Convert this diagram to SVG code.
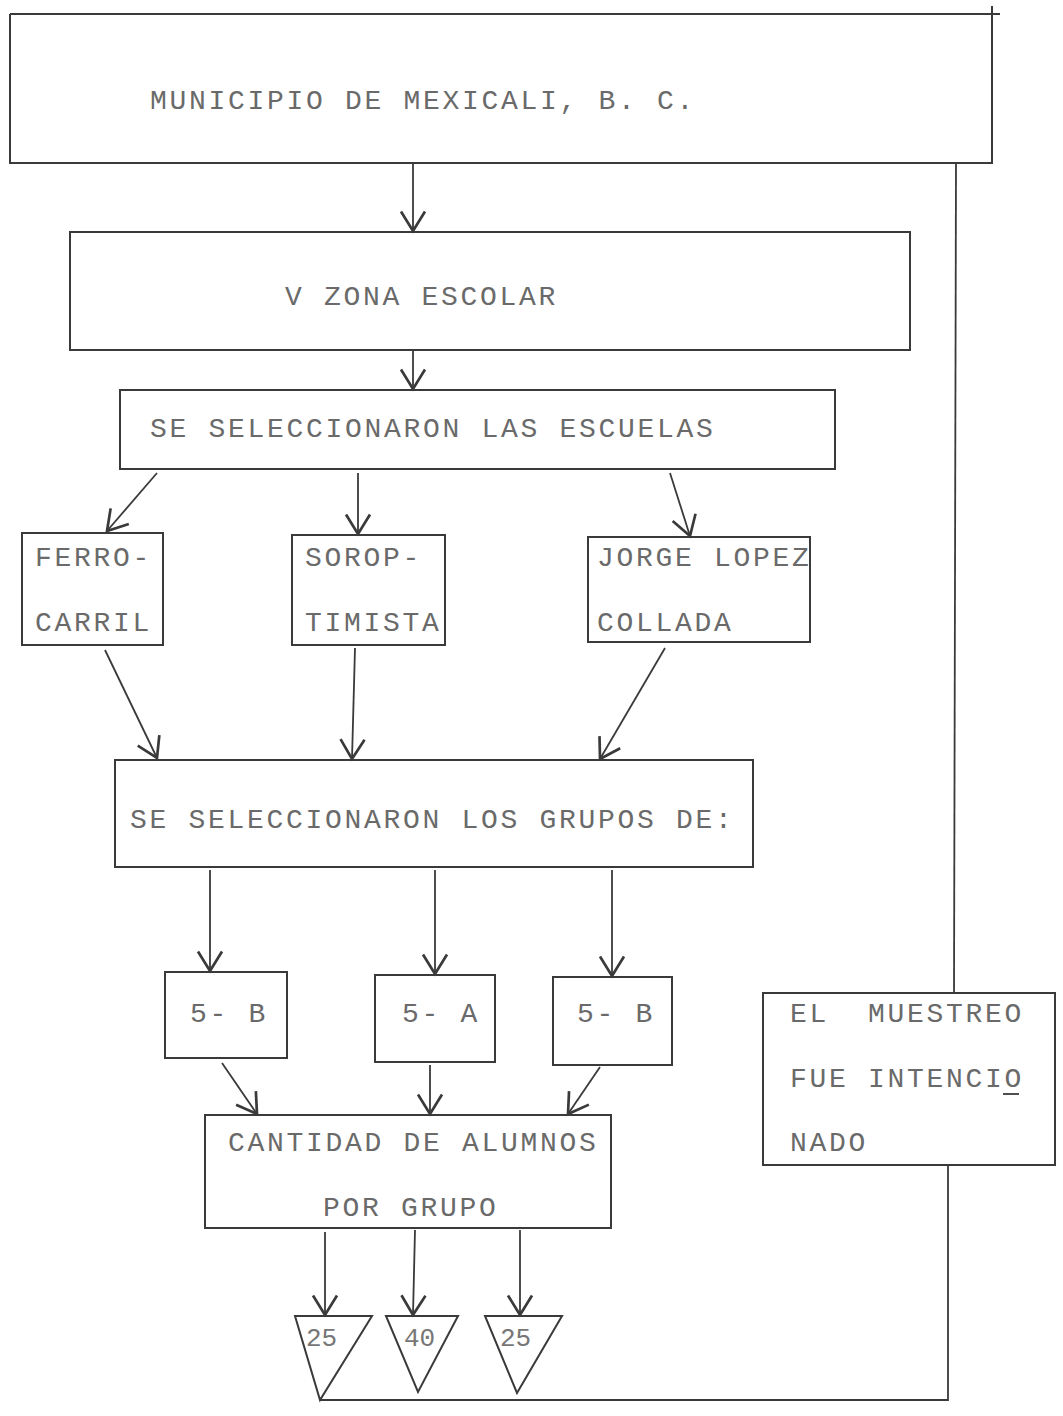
<svg xmlns="http://www.w3.org/2000/svg" width="1063" height="1416" viewBox="0 0 1063 1416">
<style>
.box{fill:none;stroke:#3a3a3a;stroke-width:2}
.ln{fill:none;stroke:#3a3a3a;stroke-width:1.8}
.arr{fill:none;stroke:#3a3a3a;stroke-width:1.8;marker-end:url(#ah)}
.t{font-family:"Liberation Mono","DejaVu Sans Mono",monospace;font-size:28px;letter-spacing:2.7px;fill:#6a6a6a}
.n{font-family:"Liberation Mono","DejaVu Sans Mono",monospace;font-size:26px;fill:#777777}
</style>
<defs>
<marker id="ah" markerUnits="userSpaceOnUse" markerWidth="30" markerHeight="30" viewBox="-15 -10 17 20" refX="0" refY="0" orient="auto">
<path d="M-13,-8 L0,0 L-13,8" fill="none" stroke="#3a3a3a" stroke-width="1.8"/>
</marker>
</defs>
<rect width="1063" height="1416" fill="#ffffff"/>

<g id="connectors">
<line class="arr" x1="413" y1="164" x2="413" y2="231"/>
<line class="arr" x1="413" y1="351" x2="413" y2="389"/>
<line class="arr" x1="157" y1="473" x2="107" y2="531"/>
<line class="arr" x1="358" y1="473" x2="358" y2="534"/>
<line class="arr" x1="670" y1="473" x2="690" y2="536"/>
<line class="arr" x1="105" y1="650" x2="157" y2="758"/>
<line class="arr" x1="355" y1="648" x2="352" y2="759"/>
<line class="arr" x1="665" y1="648" x2="600" y2="759"/>
<line class="arr" x1="210" y1="870" x2="210" y2="971"/>
<line class="arr" x1="435" y1="870" x2="435" y2="974"/>
<line class="arr" x1="612" y1="870" x2="612" y2="976"/>
<line class="arr" x1="222" y1="1063" x2="257" y2="1114"/>
<line class="arr" x1="430" y1="1065" x2="430" y2="1114"/>
<line class="arr" x1="600" y1="1067" x2="568" y2="1114"/>
<line class="arr" x1="325" y1="1232" x2="325" y2="1315"/>
<line class="arr" x1="415" y1="1230" x2="413" y2="1315"/>
<line class="arr" x1="520" y1="1230" x2="520" y2="1315"/>
<polyline class="ln" points="956,164 954,993"/>
<polyline class="ln" points="320,1400 948,1400 948,1165"/>
</g>

<g id="municipio">
<polyline class="box" points="10,14 1000,14"/>
<polyline class="box" points="992,6 992,163 10,163 10,14"/>
<text class="t" x="150" y="109">MUNICIPIO DE MEXICALI, B. C.</text>
</g>

<g id="zona">
<rect class="box" x="70" y="232" width="840" height="118"/>
<text class="t" x="285" y="305">V ZONA ESCOLAR</text>
</g>

<g id="escuelas">
<rect class="box" x="120" y="390" width="715" height="79"/>
<text class="t" x="150" y="437">SE SELECCIONARON LAS ESCUELAS</text>
</g>

<g id="ferrocarril">
<rect class="box" x="22" y="533" width="141" height="112"/>
<text class="t" x="35" y="566">FERRO-</text>
<text class="t" x="35" y="631">CARRIL</text>
</g>

<g id="soroptimista">
<rect class="box" x="292" y="535" width="153" height="110"/>
<text class="t" x="305" y="566">SOROP-</text>
<text class="t" x="305" y="631">TIMISTA</text>
</g>

<g id="jorgelopez">
<rect class="box" x="588" y="537" width="222" height="105"/>
<text class="t" x="597" y="566">JORGE LOPEZ</text>
<text class="t" x="597" y="631">COLLADA</text>
</g>

<g id="grupos">
<rect class="box" x="115" y="760" width="638" height="107"/>
<text class="t" x="130" y="828">SE SELECCIONARON LOS GRUPOS DE:</text>
</g>

<g id="g5b1">
<rect class="box" x="165" y="972" width="122" height="86"/>
<text class="t" x="190" y="1022">5- B</text>
</g>

<g id="g5a">
<rect class="box" x="375" y="975" width="120" height="87"/>
<text class="t" x="402" y="1022">5- A</text>
</g>

<g id="g5b2">
<rect class="box" x="553" y="977" width="119" height="88"/>
<text class="t" x="577" y="1022">5- B</text>
</g>

<g id="cantidad">
<rect class="box" x="205" y="1115" width="406" height="113"/>
<text class="t" x="228" y="1151">CANTIDAD DE ALUMNOS</text>
<text class="t" x="323" y="1216">POR GRUPO</text>
</g>

<g id="tri25a">
<polygon class="box" points="295,1316 372,1316 320,1400"/>
<text class="n" x="306" y="1346">25</text>
</g>

<g id="tri40">
<polygon class="box" points="386,1316 458,1316 418,1392"/>
<text class="n" x="404" y="1346">40</text>
</g>

<g id="tri25b">
<polygon class="box" points="485,1316 562,1316 517,1393"/>
<text class="n" x="500" y="1346">25</text>
</g>

<g id="muestreo">
<rect class="box" x="763" y="993" width="292" height="172"/>
<text class="t" x="790" y="1022" xml:space="preserve">EL  MUESTREO</text>
<text class="t" x="790" y="1087">FUE INTENCIO</text>
<line class="ln" x1="1003" y1="1094" x2="1019" y2="1094"/>
<text class="t" x="790" y="1151">NADO</text>
</g>
</svg>
